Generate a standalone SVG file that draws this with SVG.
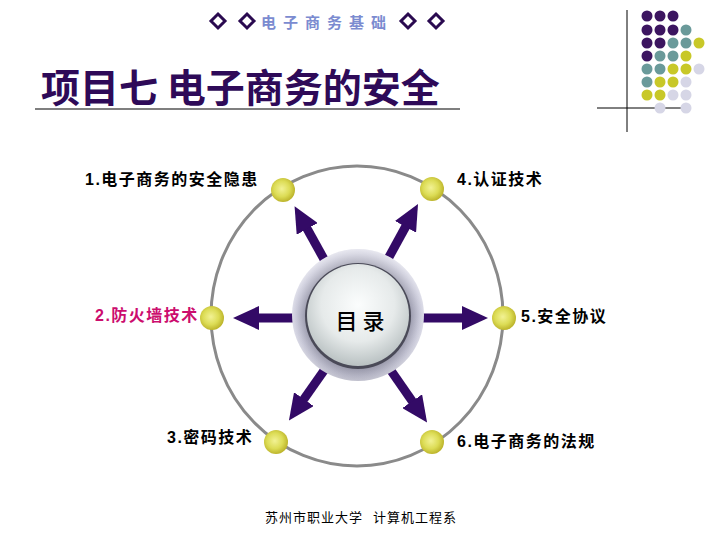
<svg xmlns="http://www.w3.org/2000/svg" width="720" height="540" viewBox="0 0 720 540">
<defs>
<style>
.lbl{font-family:"Liberation Sans","Noto Sans CJK SC",sans-serif;font-weight:bold;font-size:16px;letter-spacing:1.5px;fill:#000}
.hdr{font-family:"Noto Sans CJK SC",sans-serif;font-weight:bold;font-size:15px;letter-spacing:7px;fill:#7b8bd0}
.title{font-family:"Noto Sans CJK SC",sans-serif;font-weight:bold;font-size:39px;fill:#2e0a58}
.foot{font-family:"Noto Sans CJK SC",sans-serif;font-size:13px;letter-spacing:1px;fill:#000}
.dia{fill:none;stroke:#2a0a50;stroke-width:3}
.arrow{stroke:#330a66;stroke-width:9;fill:none;marker-end:url(#head)}
.ball{fill:url(#ballG)}
.p{fill:#3c1560}.t{fill:#6a9a9a}.y{fill:#c8c828}.l{fill:#d6d6e6}
</style>
<radialGradient id="ballG" cx="0.45" cy="0.45" r="0.55">
<stop offset="0" stop-color="#f2f294"/>
<stop offset="0.6" stop-color="#dcdc55"/>
<stop offset="1" stop-color="#bdb52c"/>
</radialGradient>
<radialGradient id="ringG" cx="0.5" cy="0.5" r="0.5">
<stop offset="0.72" stop-color="#7c7c8c"/>
<stop offset="0.82" stop-color="#a4a4b6"/>
<stop offset="0.93" stop-color="#c8c8d8"/>
<stop offset="1" stop-color="#dcdce8"/>
</radialGradient>
<linearGradient id="ringShade" x1="0" y1="0" x2="0" y2="1">
<stop offset="0" stop-color="#ffffff" stop-opacity="0.35"/>
<stop offset="0.5" stop-color="#ffffff" stop-opacity="0"/>
<stop offset="1" stop-color="#303040" stop-opacity="0.15"/>
</linearGradient>
<radialGradient id="faceG" cx="0.5" cy="0.4" r="0.6">
<stop offset="0" stop-color="#fbfdfd"/>
<stop offset="0.6" stop-color="#e6eaea"/>
<stop offset="1" stop-color="#b9c1c2"/>
</radialGradient>
<marker id="head" markerUnits="userSpaceOnUse" markerWidth="26" markerHeight="24" viewBox="0 0 26 24" refX="1" refY="12" orient="auto">
<path d="M0,0 L26,12 L0,24 Z" fill="#330a66"/>
</marker>
</defs>
<rect width="720" height="540" fill="#ffffff"/>

<g id="header">
<polygon class="dia" points="218,14 225,21 218,28 211,21"/>
<polygon class="dia" points="247,14 254,21 247,28 240,21"/>
<text class="hdr" x="261" y="28">电子商务基础</text>
<polygon class="dia" points="408,14 415,21 408,28 401,21"/>
<polygon class="dia" points="436,14 443,21 436,28 429,21"/>
</g>

<g id="corner">
<line x1="627" y1="10" x2="627" y2="132" stroke="#000" stroke-width="1"/>
<line x1="597" y1="108" x2="687" y2="108" stroke="#000" stroke-width="1"/>
<g>
<circle class="p" cx="647" cy="16" r="5.5"/><circle class="p" cx="660" cy="16" r="5.5"/><circle class="p" cx="673" cy="16" r="5.5"/>
<circle class="p" cx="647" cy="30" r="5.5"/><circle class="p" cx="660" cy="30" r="5.5"/><circle class="p" cx="673" cy="30" r="5.5"/><circle class="t" cx="686" cy="30" r="5.5"/>
<circle class="p" cx="647" cy="43" r="5.5"/><circle class="p" cx="660" cy="43" r="5.5"/><circle class="t" cx="673" cy="43" r="5.5"/><circle class="t" cx="686" cy="43" r="5.5"/><circle class="y" cx="699" cy="43" r="5.5"/>
<circle class="p" cx="647" cy="56" r="5.5"/><circle class="t" cx="660" cy="56" r="5.5"/><circle class="t" cx="673" cy="56" r="5.5"/><circle class="y" cx="686" cy="56" r="5.5"/>
<circle class="t" cx="647" cy="69" r="5.5"/><circle class="t" cx="660" cy="69" r="5.5"/><circle class="y" cx="673" cy="69" r="5.5"/><circle class="y" cx="686" cy="69" r="5.5"/><circle class="l" cx="699" cy="69" r="5.5"/>
<circle class="t" cx="647" cy="82" r="5.5"/><circle class="y" cx="660" cy="82" r="5.5"/><circle class="y" cx="673" cy="82" r="5.5"/><circle class="l" cx="686" cy="82" r="5.5"/>
<circle class="y" cx="647" cy="95" r="5.5"/><circle class="y" cx="660" cy="95" r="5.5"/><circle class="l" cx="673" cy="95" r="5.5"/><circle class="l" cx="686" cy="95" r="5.5"/>
<circle class="l" cx="660" cy="108" r="5.5"/><circle class="l" cx="686" cy="108" r="5.5"/>
</g>
</g>

<g id="title">
<text class="title" x="41" y="102">项目七 电子商务的安全</text>
<line x1="35" y1="109" x2="460" y2="109" stroke="#000" stroke-width="1.2"/>
</g>

<ellipse id="ring" cx="357" cy="316" rx="146" ry="150" fill="none" stroke="#8a8a8a" stroke-width="3"/>

<g id="connectors">
<line class="arrow" x1="330" y1="270" x2="306.7" y2="228"/>
<line class="arrow" x1="383" y1="268" x2="406" y2="226"/>
<line class="arrow" x1="300" y1="318" x2="258" y2="318"/>
<line class="arrow" x1="415" y1="318" x2="463" y2="318"/>
<line class="arrow" x1="330" y1="362" x2="303.3" y2="400"/>
<line class="arrow" x1="385" y1="362" x2="412.8" y2="402"/>
</g>

<g id="center">
<circle cx="358" cy="315" r="66" fill="url(#ringG)"/>
<circle cx="358" cy="315" r="66" fill="url(#ringShade)"/>
<circle cx="358" cy="316" r="53" fill="#4a4a58"/>
<circle cx="358" cy="315" r="51" fill="url(#faceG)"/>
<text x="360" y="329" text-anchor="middle" font-family="'Noto Sans CJK SC',sans-serif" font-size="22" font-weight="500" fill="#000">目 录</text>
</g>

<g id="n1"><circle class="ball" cx="283" cy="190" r="12"/><text class="lbl" x="85" y="185">1.电子商务的安全隐患</text></g>
<g id="n4"><circle class="ball" cx="432" cy="189" r="12"/><text class="lbl" x="457" y="185">4.认证技术</text></g>
<g id="n2"><circle class="ball" cx="212" cy="318" r="12"/><text class="lbl" x="95" y="321" style="fill:#cc0d6e">2.防火墙技术</text></g>
<g id="n5"><circle class="ball" cx="504" cy="318" r="12"/><text class="lbl" x="521" y="322">5.安全协议</text></g>
<g id="n3"><circle class="ball" cx="276" cy="442" r="12"/><text class="lbl" x="167" y="443">3.密码技术</text></g>
<g id="n6"><circle class="ball" cx="432" cy="442" r="12"/><text class="lbl" x="457" y="447">6.电子商务的法规</text></g>

<g id="footer">
<text class="foot" x="265" y="522">苏州市职业大学</text>
<text class="foot" x="373" y="522">计算机工程系</text>
</g>
</svg>
